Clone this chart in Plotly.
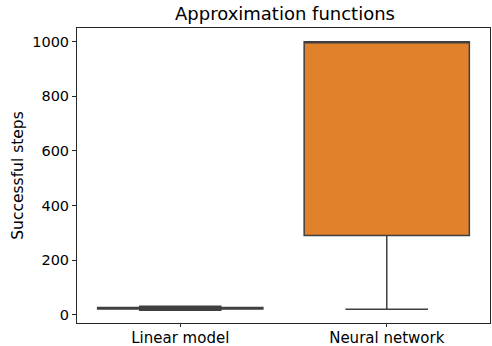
import plotly.graph_objects as go

categories = ["Linear model", "Neural network"]
lower_fence = [17, 20]
q1_vals = [21, 290]
median_vals = [24, 1000]
q3_vals = [27, 1000]
upper_fence = [31, 1000]
fill_colors = ["#3274A1", "#E1812C"]
tick_vals = [0, 200, 400, 600, 800, 1000]

fig = go.Figure()
for i, cat in enumerate(categories):
    fig.add_trace(go.Box(
        x=[cat],
        q1=[q1_vals[i]], median=[median_vals[i]], q3=[q3_vals[i]],
        lowerfence=[lower_fence[i]], upperfence=[upper_fence[i]],
        fillcolor=fill_colors[i],
        line=dict(color="#3f3f3f", width=1.5),
        width=0.8, whiskerwidth=0.5,
        showlegend=False, hoverinfo="skip",
    ))

fig.update_layout(
    width=492, height=346,
    margin=dict(l=77, r=2, t=28, b=23),
    paper_bgcolor="white", plot_bgcolor="white",
    font=dict(family="DejaVu Sans", size=15, color="#262626"),
    title=dict(text="Approximation functions", x=285/492, xanchor="center",
               yref="container", y=1 - 14/346, yanchor="middle",
               font=dict(size=18, color="black"), automargin=False),
    boxmode="overlay",
)
fig.update_xaxes(
    categoryorder="array", categoryarray=categories,
    range=[-0.5, 1.5], automargin=False,
    showline=True, mirror=True, linecolor="#262626", linewidth=1,
    ticks="outside", ticklen=3, tickcolor="#262626",
    ticklabelstandoff=-2,
    showgrid=False, zeroline=False,
    tickfont=dict(size=15, color="black"),
)
fig.update_yaxes(
    range=[-30, 1050], tickvals=tick_vals, automargin=False,
    showline=True, mirror=True, linecolor="#262626", linewidth=1,
    ticks="outside", ticklen=4, tickcolor="#262626",
    showgrid=False, zeroline=False,
    tickfont=dict(size=14.5, color="black"),
    title=dict(text="Successful steps", font=dict(size=15.5, color="black"), standoff=4),
)
fig.write_html("out.html")
